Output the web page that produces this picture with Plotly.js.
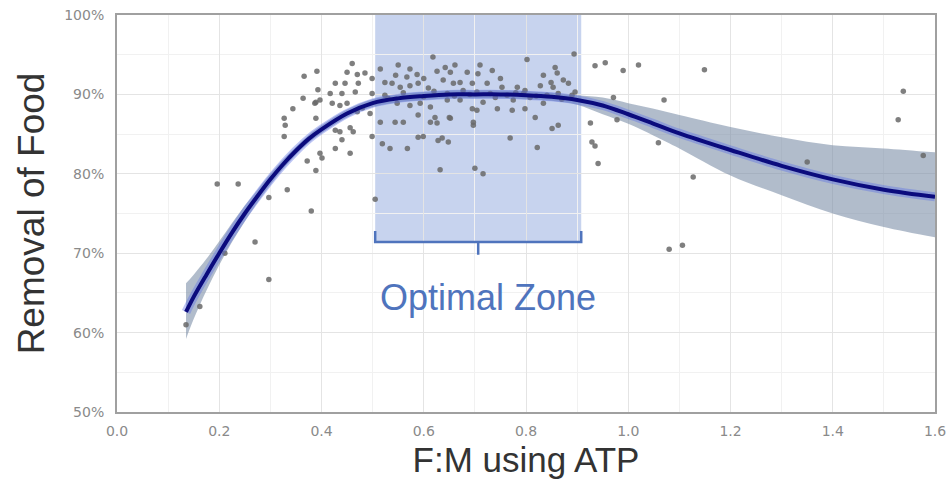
<!DOCTYPE html>
<html>
<head>
<meta charset="utf-8">
<script src="https://cdn.plot.ly/plotly-3.0.1.min.js"></script>
<style>html,body{margin:0;padding:0;background:#fff;}#chart{width:950px;height:493px;}</style>
</head>
<body>
<div id="chart"></div>
<script>
// Scatter observations (F:M, removal %)
const ptX = [0.135,0.162,0.211,0.196,0.237,0.270,0.297,0.297,0.333,0.380,0.366,0.393,0.364,0.389,0.344,0.327,0.329,0.327,0.389,0.372,0.389,0.401,0.397,0.427,0.456,0.440,0.427,0.436,0.456,0.462,0.499,0.387,0.397,0.421,0.436,0.450,0.417,0.440,0.466,0.499,0.427,0.446,0.472,0.391,0.450,0.470,0.485,0.499,0.460,0.515,0.550,0.573,0.587,0.618,0.626,0.524,0.538,0.554,0.573,0.589,0.609,0.524,0.548,0.573,0.593,0.613,0.495,0.515,0.544,0.560,0.589,0.613,0.626,0.519,0.534,0.568,0.589,0.628,0.632,0.505,0.622,0.650,0.697,0.648,0.636,0.599,0.642,0.661,0.652,0.685,0.710,0.706,0.734,0.802,0.894,0.834,0.857,0.861,0.873,0.883,0.638,0.658,0.671,0.695,0.724,0.750,0.753,0.783,0.798,0.828,0.849,0.853,0.896,0.646,0.677,0.704,0.730,0.763,0.795,0.808,0.841,0.863,0.646,0.671,0.716,0.775,0.834,0.695,0.704,0.744,0.773,0.798,0.818,0.652,0.697,0.851,0.863,0.769,0.822,0.700,0.716,0.926,0.929,0.935,0.941,0.935,0.955,0.990,1.020,1.149,0.971,1.070,0.978,1.059,1.127,1.080,1.106,1.538,1.528,1.577,1.350,0.530,0.560,0.600,0.620,0.660,0.690,0.740,0.780,0.820,0.870,0.890,0.480,0.470,0.545,0.600,0.567];
const ptY = [61.0,63.3,70.0,78.7,78.7,71.4,66.7,77.0,78.0,75.3,92.3,90.6,89.5,89.0,88.2,87.0,86.1,84.7,87.0,81.6,80.4,82.0,82.6,83.2,82.6,84.3,85.5,85.3,85.8,85.3,84.7,88.9,89.3,88.9,88.6,88.9,90.1,90.1,90.3,90.1,91.4,91.4,91.4,92.9,92.8,92.5,92.7,92.0,93.9,93.2,93.7,93.2,92.5,94.7,92.9,91.5,91.4,90.9,91.1,91.4,90.8,89.9,88.9,88.6,88.9,88.4,87.6,86.5,86.5,86.5,87.4,86.5,86.4,83.8,83.2,83.2,84.6,84.2,80.5,76.8,87.1,87.1,86.1,84.0,84.5,84.7,93.4,93.7,92.8,92.8,93.7,92.6,93.0,94.4,95.1,92.4,93.4,92.7,91.8,91.4,91.8,91.4,91.5,91.4,91.4,92.0,90.9,90.9,90.5,91.1,91.5,90.9,90.3,90.1,90.5,90.3,90.1,89.9,90.1,89.6,89.9,90.1,89.3,89.3,89.0,89.3,88.9,88.2,88.0,88.2,88.0,88.2,87.1,87.0,86.5,85.7,86.1,84.5,83.3,80.7,80.0,86.4,84.0,83.5,81.3,93.6,94.0,93.0,93.7,93.1,89.6,89.3,86.8,83.9,79.6,70.5,71.0,90.4,86.8,82.3,81.5,89.5,90.2,89.7,90.4,89.8,90.0,89.6,90.2,89.8,89.4,89.9,88.3,87.8,92.4,92.0,92.2];

// Fitted curve and confidence band
const fitX = [0.135,0.15,0.175,0.2,0.225,0.25,0.275,0.3,0.325,0.35,0.375,0.4,0.45,0.5,0.55,0.6,0.65,0.7,0.75,0.8,0.85,0.9,0.95,1.0,1.05,1.1,1.2,1.3,1.4,1.5,1.6];
const fitY = [62.6,64.5,67.3,70.0,72.6,75.0,77.2,79.3,81.2,82.9,84.4,85.6,87.6,88.9,89.5,89.8,90.0,90.0,90.0,89.9,89.7,89.3,88.6,87.5,86.3,85.1,83.0,81.0,79.3,78.0,77.1];
const bandUp = [66.2,67.3,69.3,71.5,73.8,76.0,78.0,80.0,81.8,83.4,84.9,86.1,88.1,89.4,90.0,90.3,90.5,90.5,90.5,90.4,90.2,89.9,89.6,88.9,88.2,87.4,85.9,84.6,83.6,83.2,82.7];
const bandLo = [59.2,61.7,65.3,68.5,71.4,74.0,76.4,78.6,80.6,82.4,83.9,85.1,87.1,88.4,89.0,89.3,89.5,89.5,89.5,89.4,89.2,88.7,87.5,86.3,84.8,83.2,79.8,77.3,75.0,73.3,72.0];

// Optimal zone
const zoneX = [0.505, 0.908];
const zoneY = [71.4, 100];
const zoneLabel = "Optimal Zone";
const zoneLabelPos = [0.726, 64.4];

const xTickVals = [0,0.2,0.4,0.6,0.8,1.0,1.2,1.4,1.6];
const xTickText = ['0.0','0.2','0.4','0.6','0.8','1.0','1.2','1.4','1.6'];
const yTickVals = [50,60,70,80,90,100];
const yTickText = ['50%','60%','70%','80%','90%','100%'];

const zoneBlue = '#4f74bd';
const xm = (zoneX[0] + zoneX[1]) / 2;

const traces = [
  {x: fitX, y: bandLo, mode: 'lines', line: {width: 0, color: 'rgba(0,0,0,0)', shape: 'spline'}, hoverinfo: 'skip', showlegend: false},
  {x: fitX, y: bandUp, mode: 'lines', fill: 'tonexty', fillcolor: 'rgba(120,140,165,0.58)', line: {width: 0, color: 'rgba(0,0,0,0)', shape: 'spline'}, hoverinfo: 'skip', showlegend: false},
  {x: ptX, y: ptY, mode: 'markers', marker: {size: 5.5, color: 'rgba(105,105,105,0.85)'}, showlegend: false},
  {x: fitX, y: fitY, mode: 'lines', line: {width: 9, color: 'rgba(90,110,230,0.4)', shape: 'spline'}, hoverinfo: 'skip', showlegend: false},
  {x: fitX, y: fitY, mode: 'lines', line: {width: 4, color: '#0b0b7d', shape: 'spline'}, showlegend: false}
];

const layout = {
  width: 950, height: 493,
  margin: {l: 117, r: 15, t: 15, b: 81},
  paper_bgcolor: '#fff', plot_bgcolor: '#fff',
  font: {family: '"Liberation Sans", Arial, sans-serif', color: '#888'},
  xaxis: {
    range: [0, 1.6], tickmode: 'array', tickvals: xTickVals, ticktext: xTickText,
    showgrid: true, gridcolor: '#e4e4e4', gridwidth: 1,
    minor: {dtick: 0.1, showgrid: true, gridcolor: '#f1f1f1'},
    showline: true, linecolor: '#a0a0a0', linewidth: 2, mirror: true,
    zeroline: false, ticks: 'outside', ticklen: 5, tickcolor: 'rgba(0,0,0,0)',
    tickfont: {family: '"DejaVu Sans", sans-serif', size: 14, color: '#8a8a8a'},
    title: {text: 'F:M using ATP', font: {size: 35, color: '#333'}, standoff: 10}
  },
  yaxis: {
    range: [50, 100], tickmode: 'array', tickvals: yTickVals, ticktext: yTickText,
    showgrid: true, gridcolor: '#e4e4e4', gridwidth: 1,
    minor: {dtick: 5, showgrid: true, gridcolor: '#f1f1f1'},
    showline: true, linecolor: '#a0a0a0', linewidth: 2, mirror: true,
    zeroline: false, ticks: 'outside', ticklen: 8, tickcolor: 'rgba(0,0,0,0)',
    tickfont: {family: '"DejaVu Sans", sans-serif', size: 14, color: '#8a8a8a'},
    title: {text: 'Removal of Food', font: {size: 37, color: '#333'}, standoff: 8}
  },
  shapes: [
    {type: 'rect', xref: 'x', yref: 'y', x0: zoneX[0], x1: zoneX[1], y0: zoneY[0], y1: zoneY[1],
     fillcolor: 'rgba(70,110,200,0.3)', line: {width: 0}, layer: 'below'},
    {type: 'path', xref: 'x', yref: 'y',
     path: 'M ' + zoneX[0] + ',' + (zoneY[0] + 1.4) + ' L ' + zoneX[0] + ',' + zoneY[0] + ' L ' + zoneX[1] + ',' + zoneY[0] + ' L ' + zoneX[1] + ',' + (zoneY[0] + 1.4) +
           ' M ' + xm + ',' + zoneY[0] + ' L ' + xm + ',' + (zoneY[0] - 1.6),
     line: {color: zoneBlue, width: 2.5}, layer: 'above'}
  ],
  annotations: [
    {x: zoneLabelPos[0], y: zoneLabelPos[1], xref: 'x', yref: 'y', text: zoneLabel, showarrow: false,
     font: {size: 36, color: zoneBlue}}
  ]
};

Plotly.newPlot('chart', traces, layout, {displayModeBar: false, staticPlot: true});
</script>
</body>
</html>
